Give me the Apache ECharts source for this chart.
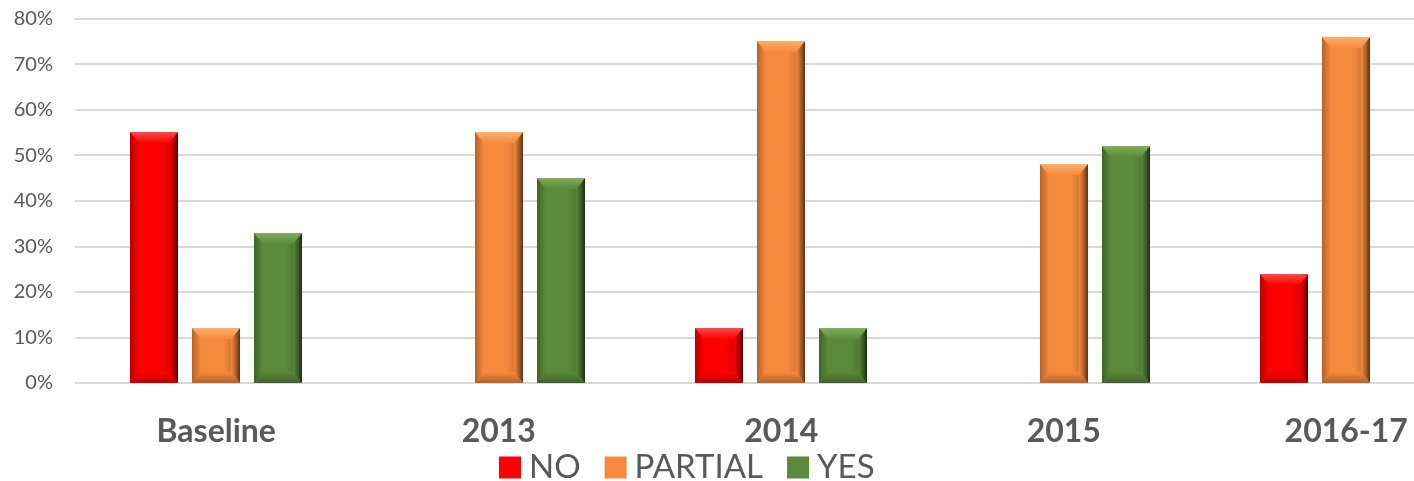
<!DOCTYPE html>
<html>
<head>
<meta charset="utf-8">
<script src="https://cdn.jsdelivr.net/npm/echarts@6/dist/echarts.min.js"></script>
<style>
  html, body { margin: 0; padding: 0; background: #fff; overflow: hidden; }
  #chart { width: 1490px; height: 481px; }
</style>
</head>
<body>
<div id="chart"></div>
<script>
// Categories and the share of each answer per period (percent)
const categories = ['Baseline', '2013', '2014', '2015', '2016-17'];
const seriesNames = ['NO', 'PARTIAL', 'YES'];
const noValues = [55, 0, 12, 0, 24];
const partialValues = [12, 55, 75, 48, 76];
const yesValues = [33, 45, 12, 52, 0];
const yTicks = [0, 10, 20, 30, 40, 50, 60, 70, 80];

// Bevelled bar palette: [base, light, dark, deep]
const palettes = [
  ['#ff0000', '#ff4a4a', '#b80000', '#5a0000'],
  ['#f68a3c', '#ffae6a', '#b4622a', '#5a3216'],
  ['#5b8b3a', '#7fae5c', '#3f6228', '#1c2d12']
];

const BAR_W = 48;
const BAR_GAP = 14;

function bevelBar(seriesIndex) {
  const pal = palettes[seriesIndex];
  return function (params, api) {
    const v = api.value(1);
    if (!v) return null;
    const top = api.coord([api.value(0), v]);
    const base = api.coord([api.value(0), 0]);
    const cx = top[0] + (seriesIndex - 1) * (BAR_W + BAR_GAP);
    const x0 = Math.round(cx - BAR_W / 2), x1 = x0 + BAR_W;
    const y0 = Math.round(top[1]), y1 = Math.round(base[1]);
    const h = y1 - y0;
    const b = Math.min(11, h / 2);
    const s = Math.min(9, BAR_W / 2);
    const lin = (x, y, x2, y2, stops) => ({
      type: 'linear', x: x, y: y, x2: x2, y2: y2,
      colorStops: stops.map((c, i) => ({ offset: i / (stops.length - 1), color: c }))
    });
    return {
      type: 'group',
      children: [
        { type: 'rect', shape: { x: x0, y: y0, width: BAR_W, height: h },
          style: { fill: pal[0] } },
        // left edge
        { type: 'polygon', shape: { points: [[x0, y0], [x0 + s, y0 + b], [x0 + s, y1 - b], [x0, y1]] },
          style: { fill: lin(0, 0, 1, 0, [pal[2], pal[0]]) } },
        // right edge
        { type: 'polygon', shape: { points: [[x1, y0], [x1 - s, y0 + b], [x1 - s, y1 - b], [x1, y1]] },
          style: { fill: lin(0, 0, 1, 0, [pal[0], pal[2], pal[3]]) } },
        // top cap
        { type: 'polygon', shape: { points: [[x0, y0], [x1, y0], [x1 - s, y0 + b], [x0 + s, y0 + b]] },
          style: { fill: lin(0, 0, 0, 1, [pal[1], pal[0]]) } },
        // bottom cap
        { type: 'polygon', shape: { points: [[x0, y1], [x1, y1], [x1 - s, y1 - b], [x0 + s, y1 - b]] },
          style: { fill: lin(0, 0, 0, 1, [pal[0], pal[2]]) } },
        // right shade over the face
        { type: 'rect', shape: { x: x1 - s - 8, y: y0 + b, width: 8, height: Math.max(0, h - 2 * b) },
          style: { fill: lin(0, 0, 1, 0, ['rgba(0,0,0,0)', 'rgba(0,0,0,0.12)']) } }
      ]
    };
  };
}

const valueLists = [noValues, partialValues, yesValues];

const chart = echarts.init(document.getElementById('chart'), null, { renderer: 'canvas' });
chart.setOption({
  backgroundColor: '#ffffff',
  animation: false,
  textStyle: { fontFamily: 'Lato, "Open Sans", sans-serif' },
  grid: { left: 75, right: 2.5, top: 18.5, bottom: 98, containLabel: false },
  legend: {
    left: 494, top: 446,
    itemWidth: 22, itemHeight: 22, itemGap: 24,
    icon: 'rect',
    textStyle: { fontSize: 33, color: '#595959', padding: [0, 0, 0, 3] },
    data: seriesNames
  },
  xAxis: {
    type: 'category',
    data: categories,
    axisLine: { show: false },
    axisTick: { show: false },
    axisLabel: { fontSize: 32, fontWeight: 'bold', color: '#595959', margin: 33 }
  },
  yAxis: {
    type: 'value',
    min: yTicks[0], max: yTicks[yTicks.length - 1], interval: 10,
    axisLine: { show: false },
    axisTick: { show: false },
    axisLabel: { fontSize: 20, color: '#595959', margin: 22, formatter: '{value}%' },
    splitLine: { lineStyle: { color: '#d9d9d9', width: 2 } }
  },
  series: seriesNames.map((name, i) => ({
    name: name,
    type: 'custom',
    itemStyle: { color: palettes[i][0] },
    renderItem: bevelBar(i),
    encode: { x: 0, y: 1 },
    data: valueLists[i].map((v, k) => [k, v])
  }))
});
</script>
</body>
</html>
